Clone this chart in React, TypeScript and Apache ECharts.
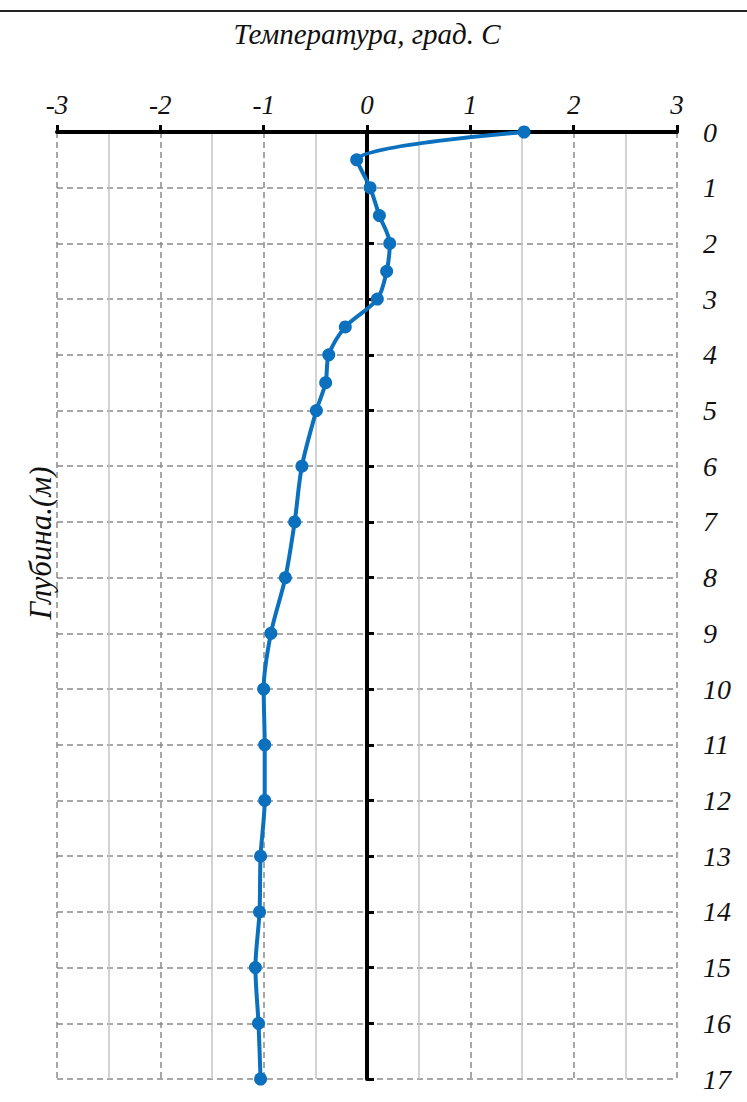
import React, { useEffect, useRef } from "react";
import * as echarts from "echarts";

const depths = [0, 0.5, 1, 1.5, 2, 2.5, 3, 3.5, 4, 4.5, 5, 6, 7, 8, 9, 10, 11, 12, 13, 14, 15, 16, 17];
const temps = [1.52, -0.1, 0.03, 0.12, 0.22, 0.19, 0.1, -0.21, -0.37, -0.4, -0.49, -0.63, -0.7, -0.79, -0.93, -1.0, -0.99, -0.99, -1.03, -1.04, -1.08, -1.05, -1.03];
const xTitle = "Температура, град. С";
const yTitle = "Глубина.(м)";

const FONT = "'Liberation Serif', 'DejaVu Serif', serif";

export default function App() {
  const ref = useRef<HTMLDivElement>(null);
  useEffect(() => {
    const chart = echarts.init(ref.current!, undefined, { renderer: "svg" });
    const data = depths.map((d, i) => [temps[i], d]);
    chart.setOption({
      animation: false,
      backgroundColor: "#ffffff",
      grid: { left: 57, right: 70, top: 132, bottom: 23, containLabel: false },
      xAxis: {
        type: "value",
        position: "top",
        min: -3,
        max: 3,
        interval: 1,
        name: xTitle,
        nameLocation: "middle",
        nameGap: 84,
        nameTextStyle: { fontFamily: FONT, fontStyle: "italic", fontSize: 29, color: "#111" },
        axisLine: { show: true, lineStyle: { color: "#000", width: 4 } },
        axisTick: { show: true, length: 7, lineStyle: { color: "#000", width: 3 } },
        axisLabel: { fontFamily: FONT, fontStyle: "italic", fontSize: 27, color: "#111", margin: 14 },
        splitLine: { show: true, lineStyle: { color: "#8a8a8a", width: 1.5, type: [6, 4] } },
        minorTick: { show: false, splitNumber: 2 },
        minorSplitLine: { show: true, lineStyle: { color: "#c4c4c4", width: 1.5 } },
      },
      yAxis: [
        {
          type: "value",
          position: "left",
          inverse: true,
          min: 0,
          max: 17,
          interval: 1,
          axisLine: { show: true, onZero: true, lineStyle: { color: "#000", width: 4 } },
          axisTick: { show: true, inside: true, length: 7, lineStyle: { color: "#000", width: 3 } },
          axisLabel: { show: false },
          splitLine: { show: true, lineStyle: { color: "#8a8a8a", width: 1.5, type: [6, 4] } },
        },
        {
          type: "value",
          position: "right",
          inverse: true,
          min: 0,
          max: 17,
          interval: 1,
          axisLine: { show: false, onZero: false },
          axisTick: { show: false },
          axisLabel: { fontFamily: FONT, fontStyle: "italic", fontSize: 28, color: "#111", margin: 26, align: "left" },
          splitLine: { show: false },
        },
      ],
      graphic: [
        { type: "line", shape: { x1: 0, y1: 11, x2: 747, y2: 11 }, style: { stroke: "#222", lineWidth: 2 } },
        {
          type: "text",
          x: 40,
          y: 543,
          rotation: Math.PI / 2,
          style: {
            text: yTitle,
            font: `italic 31px ${FONT}`,
            fill: "#111",
            textAlign: "center",
            verticalAlign: "middle",
          },
        },
      ],
      series: [
        {
          type: "line",
          xAxisIndex: 0,
          yAxisIndex: 0,
          data,
          smooth: 0.3,
          symbol: "circle",
          symbolSize: 13,
          lineStyle: { color: "#0B70BE", width: 4 },
          itemStyle: { color: "#0B70BE" },
          z: 5,
        },
      ],
    });
    return () => chart.dispose();
  }, []);
  return <div ref={ref} style={{ position: "absolute", left: 0, top: 0, width: 747, height: 1102 }} />;
}
